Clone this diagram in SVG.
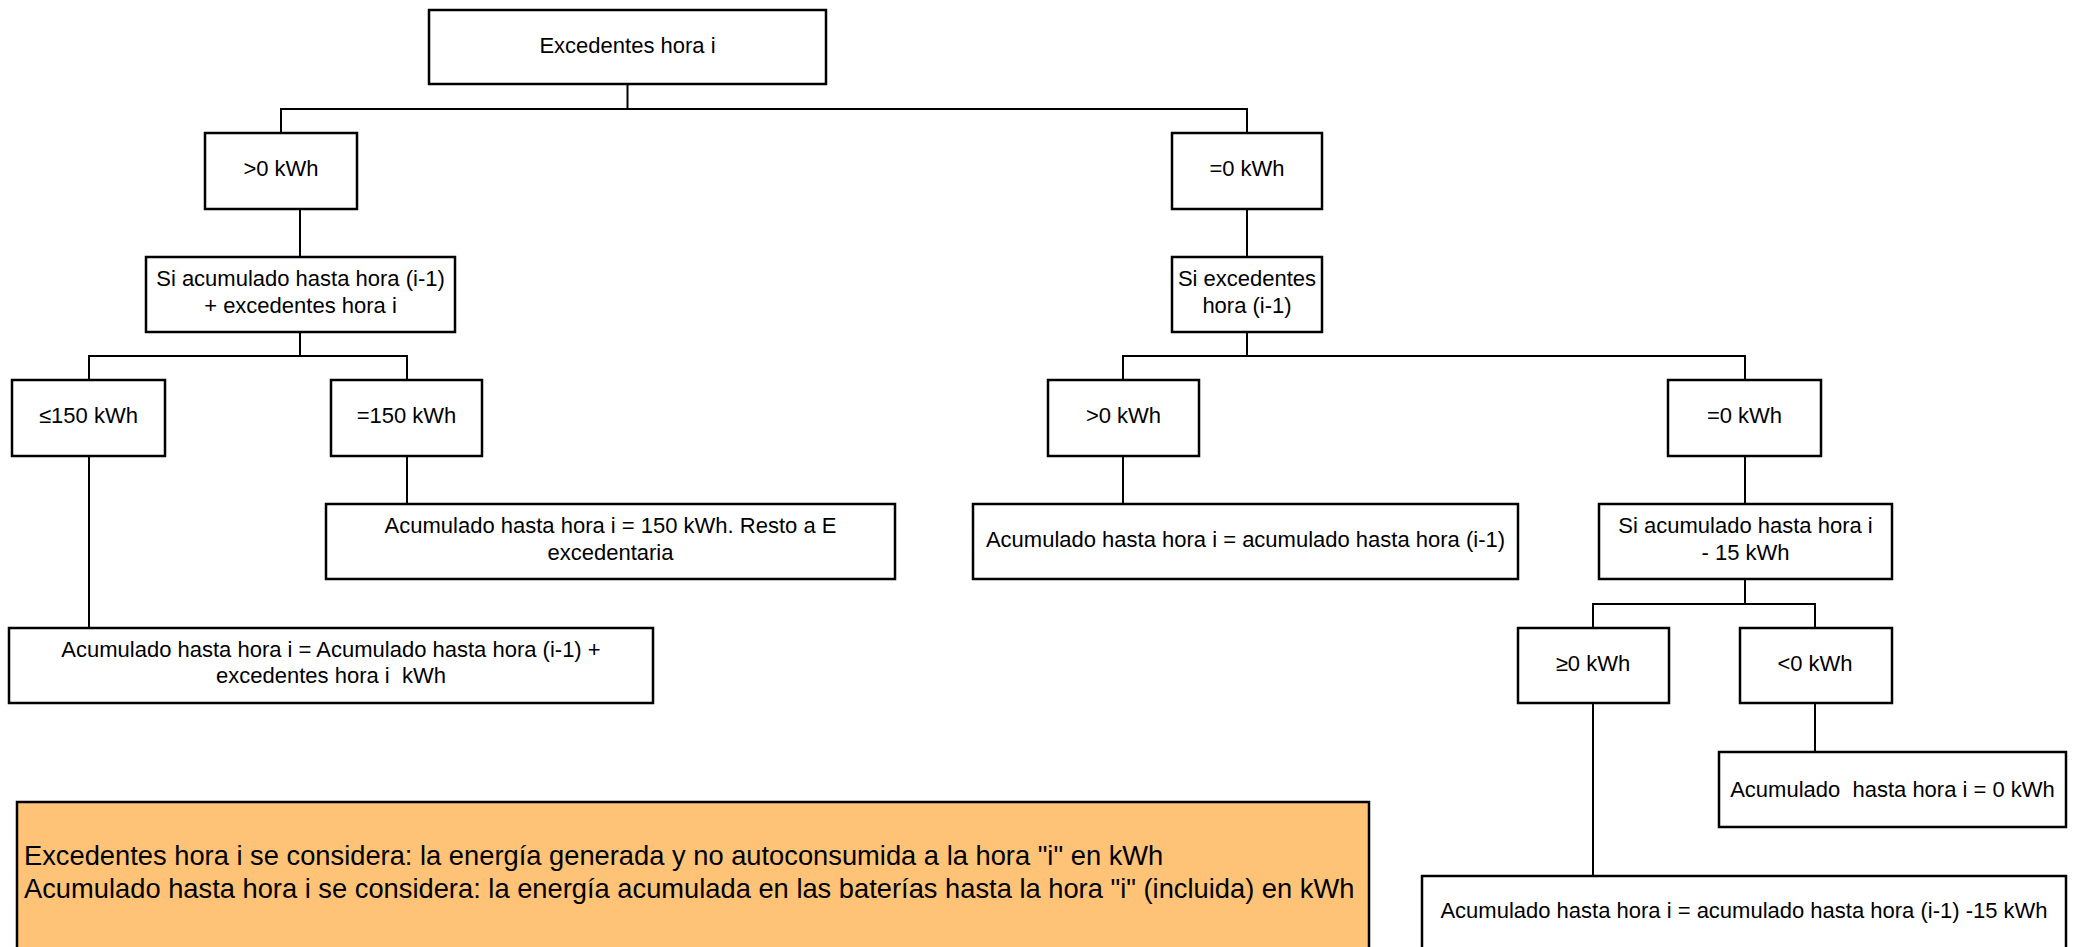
<svg xmlns="http://www.w3.org/2000/svg" width="2078" height="947" viewBox="0 0 2078 947">
  <style>
    .box { fill: #ffffff; stroke: #000000; stroke-width: 2.5; }
    .note { fill: #FEC377; stroke: #000000; stroke-width: 2.5; }
    .lbl { font-family: "Liberation Sans", Arial, sans-serif; font-size: 22px; fill: #000000; text-anchor: middle; }
    .notetxt { font-family: "Liberation Sans", Arial, sans-serif; font-size: 27.3px; fill: #000000; }
    .wire { fill: none; stroke: #000000; stroke-width: 2; }
  </style>
  <rect width="2078" height="947" fill="#ffffff"/>

  <!-- connectors -->
  <g id="connectors">
    <polyline class="wire" points="627.5,84 627.5,109"/>
    <polyline class="wire" points="281,133 281,109 1247,109 1247,133"/>
    <line class="wire" x1="300" y1="208" x2="300" y2="257" stroke-width="3"/>
    <polyline class="wire" points="300,332 300,356"/>
    <polyline class="wire" points="89,380 89,356 407,356 407,380"/>
    <line class="wire" x1="89" y1="456" x2="89" y2="628"/>
    <line class="wire" x1="407" y1="456" x2="407" y2="504"/>
    <line class="wire" x1="1247" y1="209" x2="1247" y2="257"/>
    <polyline class="wire" points="1247,332 1247,356"/>
    <polyline class="wire" points="1123,380 1123,356 1745,356 1745,380"/>
    <line class="wire" x1="1123" y1="456" x2="1123" y2="504"/>
    <line class="wire" x1="1745" y1="456" x2="1745" y2="504"/>
    <polyline class="wire" points="1745,579 1745,604"/>
    <polyline class="wire" points="1593,628 1593,604 1815,604 1815,628"/>
    <line class="wire" x1="1593" y1="703" x2="1593" y2="876"/>
    <line class="wire" x1="1815" y1="703" x2="1815" y2="752"/>
  </g>

  <g id="root">
    <rect class="box" x="429" y="10" width="397" height="74"/>
    <text class="lbl" x="627.5" y="53">Excedentes hora i</text>
  </g>

  <g id="pos">
    <rect class="box" x="205" y="133" width="152" height="76"/>
    <text class="lbl" x="281" y="176">&gt;0 kWh</text>
  </g>

  <g id="zero">
    <rect class="box" x="1172" y="133" width="150" height="76"/>
    <text class="lbl" x="1247" y="176">=0 kWh</text>
  </g>

  <g id="si-acum">
    <rect class="box" x="146" y="257" width="309" height="75"/>
    <text class="lbl" x="300.5" y="286">Si acumulado hasta hora (i-1)</text>
    <text class="lbl" x="300.5" y="313">+ excedentes hora i</text>
  </g>

  <g id="si-exc">
    <rect class="box" x="1172" y="257" width="150" height="75"/>
    <text class="lbl" x="1247" y="286">Si excedentes</text>
    <text class="lbl" x="1247" y="313">hora (i-1)</text>
  </g>

  <g id="le150">
    <rect class="box" x="12" y="380" width="153" height="76"/>
    <text class="lbl" x="88.5" y="423">≤150 kWh</text>
  </g>

  <g id="eq150">
    <rect class="box" x="331" y="380" width="151" height="76"/>
    <text class="lbl" x="406.5" y="423">=150 kWh</text>
  </g>

  <g id="prev-pos">
    <rect class="box" x="1048" y="380" width="151" height="76"/>
    <text class="lbl" x="1123.5" y="423">&gt;0 kWh</text>
  </g>

  <g id="prev-zero">
    <rect class="box" x="1668" y="380" width="153" height="76"/>
    <text class="lbl" x="1744.5" y="423">=0 kWh</text>
  </g>

  <g id="res-150">
    <rect class="box" x="326" y="504" width="569" height="75"/>
    <text class="lbl" x="610.5" y="533">Acumulado hasta hora i = 150 kWh. Resto a E</text>
    <text class="lbl" x="610.5" y="560">excedentaria</text>
  </g>

  <g id="res-prev">
    <rect class="box" x="973" y="504" width="545" height="75"/>
    <text class="lbl" x="1245.5" y="547">Acumulado hasta hora i = acumulado hasta hora (i-1)</text>
  </g>

  <g id="si-minus15">
    <rect class="box" x="1599" y="504" width="293" height="75"/>
    <text class="lbl" x="1745.5" y="533">Si acumulado hasta hora i</text>
    <text class="lbl" x="1745.5" y="560">- 15 kWh</text>
  </g>

  <g id="res-sum">
    <rect class="box" x="9" y="628" width="644" height="75"/>
    <text class="lbl" x="331" y="657">Acumulado hasta hora i = Acumulado hasta hora (i-1) +</text>
    <text class="lbl" x="331" y="683" xml:space="preserve">excedentes hora i  kWh</text>
  </g>

  <g id="ge0">
    <rect class="box" x="1518" y="628" width="151" height="75"/>
    <text class="lbl" x="1593" y="671">≥0 kWh</text>
  </g>

  <g id="lt0">
    <rect class="box" x="1740" y="628" width="152" height="75"/>
    <text class="lbl" x="1815" y="671">&lt;0 kWh</text>
  </g>

  <g id="res-zero">
    <rect class="box" x="1719" y="752" width="347" height="75"/>
    <text class="lbl" x="1892.5" y="797" xml:space="preserve">Acumulado  hasta hora i = 0 kWh</text>
  </g>

  <g id="res-minus15">
    <rect class="box" x="1422" y="876" width="644" height="80"/>
    <text class="lbl" x="1744" y="918">Acumulado hasta hora i = acumulado hasta hora (i-1) -15 kWh</text>
  </g>

  <g id="legend">
    <rect class="note" x="17" y="802" width="1352" height="160"/>
    <text class="notetxt" x="24" y="865">Excedentes hora i se considera: la energía generada y no autoconsumida a la hora "i" en kWh</text>
    <text class="notetxt" x="24" y="898">Acumulado hasta hora i se considera: la energía acumulada en las baterías hasta la hora "i" (incluida) en kWh</text>
  </g>
</svg>
